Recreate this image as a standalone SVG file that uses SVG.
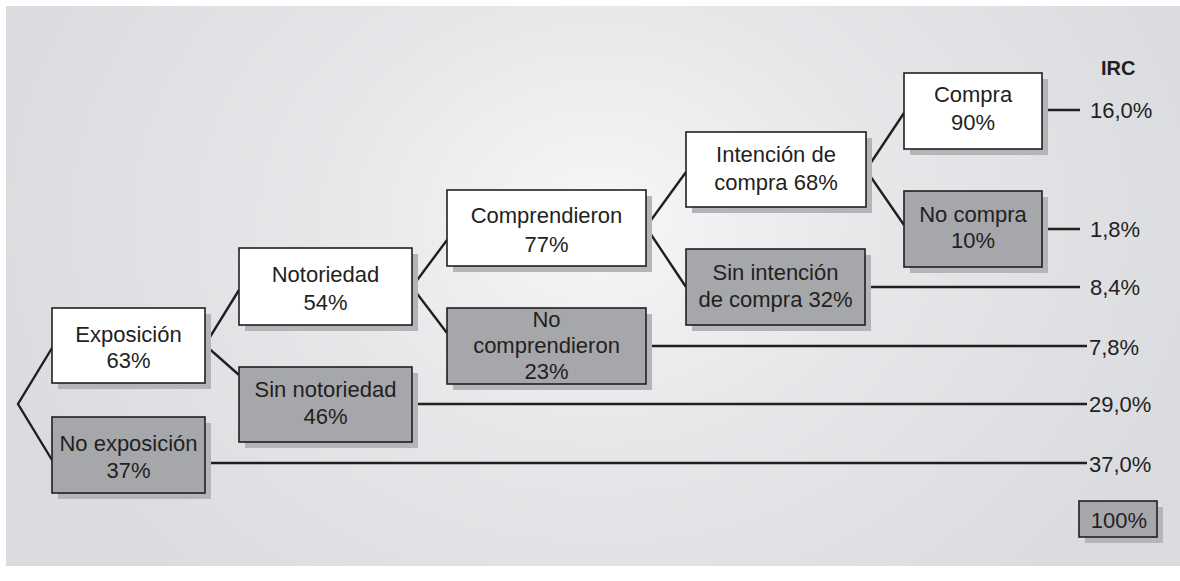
<svg xmlns="http://www.w3.org/2000/svg" width="1180" height="581" viewBox="0 0 1180 581">
<defs>
<radialGradient id="bg" cx="600" cy="220" r="620" gradientUnits="userSpaceOnUse" gradientTransform="translate(600 220) scale(1 0.8) translate(-600 -220)">
<stop offset="0" stop-color="#f7f7f8"/>
<stop offset="0.45" stop-color="#e6e7e9"/>
<stop offset="1" stop-color="#dbdcdf"/>
</radialGradient>
</defs>
<style>
.sh{fill:#b4b5b8}
.w{fill:#ffffff;stroke:#231f20;stroke-width:1.6}
.g{fill:#a6a7aa;stroke:#231f20;stroke-width:1.6}
.t{font-family:"Liberation Sans",Arial,sans-serif;font-size:22px;fill:#231f20;text-anchor:middle}
.v{font-family:"Liberation Sans",Arial,sans-serif;font-size:22px;fill:#231f20}
.b{font-family:"Liberation Sans",Arial,sans-serif;font-size:20px;font-weight:bold;fill:#231f20}
.c{fill:none;stroke:#231f20;stroke-width:2.4}
</style>
<rect x="6" y="6" width="1174" height="560" fill="url(#bg)"/>
<g id="connectors">
<polyline class="c" points="52,348 18,404 52,460"/>
<polyline class="c" points="239,290 205,345 239,375"/>
<polyline class="c" points="447,240 412,287 447,333"/>
<polyline class="c" points="686,172 646,227 686,287"/>
<polyline class="c" points="904,113 866,170 904,225"/>
<line class="c" x1="1042" y1="110" x2="1080" y2="110"/>
<line class="c" x1="1042" y1="229" x2="1080" y2="229"/>
<line class="c" x1="865" y1="287" x2="1080" y2="287"/>
<line class="c" x1="646" y1="346" x2="1087" y2="346"/>
<line class="c" x1="412" y1="404" x2="1087" y2="404"/>
<line class="c" x1="205" y1="463" x2="1087" y2="463"/>
</g>
<g id="exposicion">
<rect class="sh" x="58" y="314" width="153" height="75"/>
<rect class="w" x="52" y="308" width="153" height="75"/>
<text class="t" x="128.5" y="342">Exposición</text>
<text class="t" x="128.5" y="368">63%</text>
</g>
<g id="no-exposicion">
<rect class="sh" x="58" y="423" width="153" height="76"/>
<rect class="g" x="52" y="417" width="153" height="76"/>
<text class="t" x="128.5" y="451">No exposición</text>
<text class="t" x="128.5" y="478">37%</text>
</g>
<g id="notoriedad">
<rect class="sh" x="245" y="254" width="173" height="77"/>
<rect class="w" x="239" y="248" width="173" height="77"/>
<text class="t" x="325.5" y="282">Notoriedad</text>
<text class="t" x="325.5" y="310">54%</text>
</g>
<g id="sin-notoriedad">
<rect class="sh" x="245" y="373" width="173" height="75"/>
<rect class="g" x="239" y="367" width="173" height="75"/>
<text class="t" x="325.5" y="397">Sin notoriedad</text>
<text class="t" x="325.5" y="424">46%</text>
</g>
<g id="comprendieron">
<rect class="sh" x="453" y="196" width="199" height="76"/>
<rect class="w" x="447" y="190" width="199" height="76"/>
<text class="t" x="546.5" y="223">Comprendieron</text>
<text class="t" x="546.5" y="252">77%</text>
</g>
<g id="no-comprendieron">
<rect class="sh" x="453" y="314" width="199" height="76"/>
<rect class="g" x="447" y="308" width="199" height="76"/>
<text class="t" x="546.5" y="327">No</text>
<text class="t" x="546.5" y="353">comprendieron</text>
<text class="t" x="546.5" y="379">23%</text>
</g>
<g id="intencion">
<rect class="sh" x="692" y="138" width="180" height="75"/>
<rect class="w" x="686" y="132" width="180" height="75"/>
<text class="t" x="776" y="162">Intención de</text>
<text class="t" x="776" y="190">compra 68%</text>
</g>
<g id="sin-intencion">
<rect class="sh" x="692" y="255" width="179" height="76"/>
<rect class="g" x="686" y="249" width="179" height="76"/>
<text class="t" x="775.5" y="280">Sin intención</text>
<text class="t" x="775.5" y="307">de compra 32%</text>
</g>
<g id="compra">
<rect class="sh" x="910" y="79" width="138" height="76"/>
<rect class="w" x="904" y="73" width="138" height="76"/>
<text class="t" x="973" y="102">Compra</text>
<text class="t" x="973" y="130">90%</text>
</g>
<g id="no-compra">
<rect class="sh" x="910" y="197" width="138" height="76"/>
<rect class="g" x="904" y="191" width="138" height="76"/>
<text class="t" x="973" y="222">No compra</text>
<text class="t" x="973" y="248">10%</text>
</g>
<g id="irc">
<text class="b" x="1101" y="75">IRC</text>
<text class="v" x="1090" y="118">16,0%</text>
<text class="v" x="1090" y="237">1,8%</text>
<text class="v" x="1090" y="295">8,4%</text>
<text class="v" x="1089" y="355">7,8%</text>
<text class="v" x="1089" y="412">29,0%</text>
<text class="v" x="1089" y="472">37,0%</text>
</g>
<g id="total">
<rect class="sh" x="1085" y="507" width="78" height="36"/>
<rect class="g" x="1079" y="501" width="78" height="36"/>
<text class="t" x="1119" y="528">100%</text>
</g>
</svg>
